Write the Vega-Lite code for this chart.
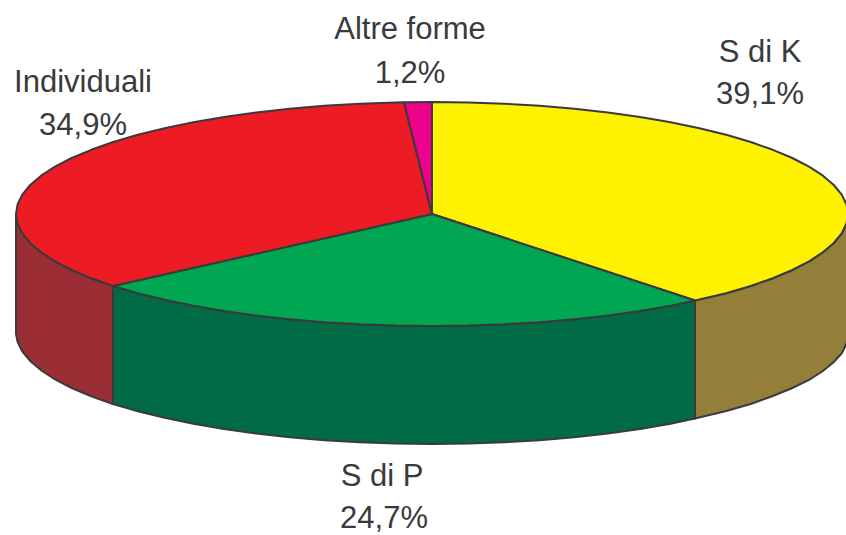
{
"$schema":"https://vega.github.io/schema/vega-lite/v6.json",
"width":846,"height":535,"autosize":{"type":"none"},"padding":0,
"background":"white","view":{"stroke":null},
"datasets":{
"walls":[
{"s":"Kw","x":848,"y":214,"y2":334},{"s":"Kw","x":846.4,"y":223.8,"y2":343.8},{"s":"Kw","x":841.7,"y":233.4,"y2":353.4},{"s":"Kw","x":833.8,"y":243,"y2":362},{"s":"Kw","x":822.9,"y":252.3,"y2":371},{"s":"Kw","x":809,"y":261.3,"y2":380},{"s":"Kw","x":792.3,"y":270,"y2":388},{"s":"Kw","x":772.8,"y":278.2,"y2":396},{"s":"Kw","x":750.7,"y":286,"y2":404},{"s":"Kw","x":726.2,"y":293.2,"y2":411},{"s":"Kw","x":695,"y":300.5,"y2":418.5},
{"s":"Pw","x":695,"y":300.5,"y2":418.5},{"s":"Pw","x":670.6,"y":305.7,"y2":423.7},{"s":"Pw","x":640,"y":311,"y2":429},{"s":"Pw","x":607.8,"y":315.5,"y2":433.5},{"s":"Pw","x":574.3,"y":319.2,"y2":437.2},{"s":"Pw","x":539.7,"y":322.2,"y2":440.2},{"s":"Pw","x":504.2,"y":324.3,"y2":442.3},{"s":"Pw","x":468.3,"y":325.6,"y2":443.6},{"s":"Pw","x":432,"y":326,"y2":444},{"s":"Pw","x":395.7,"y":325.6,"y2":443.6},{"s":"Pw","x":359.8,"y":324.3,"y2":442.3},{"s":"Pw","x":324.3,"y":322.2,"y2":440.2},{"s":"Pw","x":289.7,"y":319.2,"y2":437.2},{"s":"Pw","x":256.2,"y":315.5,"y2":433.5},{"s":"Pw","x":224,"y":311,"y2":429},{"s":"Pw","x":193.4,"y":305.7,"y2":423.7},{"s":"Pw","x":164.6,"y":299.8,"y2":417.8},{"s":"Pw","x":137.8,"y":293.2,"y2":411.2},{"s":"Pw","x":113,"y":286,"y2":404},
{"s":"Iw","x":113,"y":286,"y2":404},{"s":"Iw","x":91.2,"y":278.2,"y2":396.2},{"s":"Iw","x":71.7,"y":270,"y2":388},{"s":"Iw","x":55,"y":261.3,"y2":379.3},{"s":"Iw","x":41.1,"y":252.3,"y2":370.3},{"s":"Iw","x":30.2,"y":243,"y2":361},{"s":"Iw","x":22.3,"y":233.4,"y2":351.4},{"s":"Iw","x":17.6,"y":223.8,"y2":341.8},{"s":"Iw","x":16,"y":214,"y2":334}
],
"tops":[
{"s":"K","o":0,"x":432,"y":214},{"s":"K","o":1,"x":432,"y":102},{"s":"K","o":2,"x":468.3,"y":102.4},{"s":"K","o":3,"x":504.2,"y":103.7},{"s":"K","o":4,"x":539.7,"y":105.8},{"s":"K","o":5,"x":574.3,"y":108.8},{"s":"K","o":6,"x":607.8,"y":112.5},{"s":"K","o":7,"x":640,"y":117},{"s":"K","o":8,"x":670.6,"y":122.3},{"s":"K","o":9,"x":699.4,"y":128.2},{"s":"K","o":10,"x":726.2,"y":134.8},{"s":"K","o":11,"x":750.7,"y":142},{"s":"K","o":12,"x":772.8,"y":149.8},{"s":"K","o":13,"x":792.3,"y":158},{"s":"K","o":14,"x":809,"y":166.7},{"s":"K","o":15,"x":822.9,"y":175.7},{"s":"K","o":16,"x":833.8,"y":185},{"s":"K","o":17,"x":841.7,"y":194.6},{"s":"K","o":18,"x":846.4,"y":204.2},{"s":"K","o":19,"x":848,"y":214},{"s":"K","o":20,"x":846.4,"y":223.8},{"s":"K","o":21,"x":841.7,"y":233.4},{"s":"K","o":22,"x":833.8,"y":243},{"s":"K","o":23,"x":822.9,"y":252.3},{"s":"K","o":24,"x":809,"y":261.3},{"s":"K","o":25,"x":792.3,"y":270},{"s":"K","o":26,"x":772.8,"y":278.2},{"s":"K","o":27,"x":750.7,"y":286},{"s":"K","o":28,"x":726.2,"y":293.2},{"s":"K","o":29,"x":695,"y":300.5},{"s":"K","o":30,"x":432,"y":214},
{"s":"P","o":0,"x":432,"y":214},{"s":"P","o":1,"x":695,"y":300.5},{"s":"P","o":2,"x":670.6,"y":305.7},{"s":"P","o":3,"x":640,"y":311},{"s":"P","o":4,"x":607.8,"y":315.5},{"s":"P","o":5,"x":574.3,"y":319.2},{"s":"P","o":6,"x":539.7,"y":322.2},{"s":"P","o":7,"x":504.2,"y":324.3},{"s":"P","o":8,"x":468.3,"y":325.6},{"s":"P","o":9,"x":432,"y":326},{"s":"P","o":10,"x":395.7,"y":325.6},{"s":"P","o":11,"x":359.8,"y":324.3},{"s":"P","o":12,"x":324.3,"y":322.2},{"s":"P","o":13,"x":289.7,"y":319.2},{"s":"P","o":14,"x":256.2,"y":315.5},{"s":"P","o":15,"x":224,"y":311},{"s":"P","o":16,"x":193.4,"y":305.7},{"s":"P","o":17,"x":164.6,"y":299.8},{"s":"P","o":18,"x":137.8,"y":293.2},{"s":"P","o":19,"x":113,"y":286},{"s":"P","o":20,"x":432,"y":214},
{"s":"I","o":0,"x":432,"y":214},{"s":"I","o":1,"x":113,"y":286},{"s":"I","o":2,"x":91.2,"y":278.2},{"s":"I","o":3,"x":71.7,"y":270},{"s":"I","o":4,"x":55,"y":261.3},{"s":"I","o":5,"x":41.1,"y":252.3},{"s":"I","o":6,"x":30.2,"y":243},{"s":"I","o":7,"x":22.3,"y":233.4},{"s":"I","o":8,"x":17.6,"y":223.8},{"s":"I","o":9,"x":16,"y":214},{"s":"I","o":10,"x":17.6,"y":204.2},{"s":"I","o":11,"x":22.3,"y":194.6},{"s":"I","o":12,"x":30.2,"y":185},{"s":"I","o":13,"x":41.1,"y":175.7},{"s":"I","o":14,"x":55,"y":166.7},{"s":"I","o":15,"x":71.7,"y":158},{"s":"I","o":16,"x":91.2,"y":149.8},{"s":"I","o":17,"x":113.3,"y":142},{"s":"I","o":18,"x":137.8,"y":134.8},{"s":"I","o":19,"x":164.6,"y":128.2},{"s":"I","o":20,"x":193.4,"y":122.3},{"s":"I","o":21,"x":224,"y":117},{"s":"I","o":22,"x":256.2,"y":112.5},{"s":"I","o":23,"x":289.7,"y":108.8},{"s":"I","o":24,"x":324.3,"y":105.8},{"s":"I","o":25,"x":359.8,"y":103.7},{"s":"I","o":26,"x":395.7,"y":102.4},{"s":"I","o":27,"x":404,"y":102.2},{"s":"I","o":28,"x":432,"y":214},
{"s":"A","o":0,"x":432,"y":214},{"s":"A","o":1,"x":404,"y":102.2},{"s":"A","o":2,"x":432,"y":102},{"s":"A","o":3,"x":432,"y":214}
],
"labels":[
{"t":"S di K","x":760,"y":62},{"t":"39,1%","x":760,"y":104},
{"t":"Altre forme","x":410,"y":39},{"t":"1,2%","x":410,"y":83},
{"t":"Individuali","x":83,"y":92},{"t":"34,9%","x":83,"y":135},
{"t":"S di P","x":382,"y":486},{"t":"24,7%","x":384,"y":528}
]},
"layer":[
{"data":{"name":"walls"},"mark":{"type":"area","clip":true,"stroke":"#3A3A3C","strokeWidth":2,"opacity":1},
"encoding":{
"x":{"field":"x","type":"quantitative","scale":{"domain":[0,846],"nice":false,"zero":false},"axis":null},
"y":{"field":"y","type":"quantitative","scale":{"domain":[535,0],"nice":false,"zero":false},"axis":null},
"y2":{"field":"y2"},
"fill":{"field":"s","type":"nominal","legend":null,"scale":{"domain":["Kw","Pw","Iw"],"range":["#937F3A","#006B45","#9B2D35"]}}}},
{"data":{"name":"tops"},"mark":{"type":"line","clip":true,"stroke":"#3A3A3C","strokeWidth":2,"strokeJoin":"round"},
"encoding":{
"x":{"field":"x","type":"quantitative","scale":{"domain":[0,846],"nice":false,"zero":false},"axis":null},
"y":{"field":"y","type":"quantitative","scale":{"domain":[535,0],"nice":false,"zero":false},"axis":null},
"order":{"field":"o","type":"quantitative"},
"fill":{"field":"s","type":"nominal","legend":null,"scale":{"domain":["K","P","I","A"],"range":["#FFF200","#00A651","#ED1C24","#EC008C"]}}}},
{"data":{"name":"labels"},"mark":{"type":"text","font":"Liberation Sans","fontSize":31,"color":"#3A3A3C","baseline":"alphabetic","align":"center"},
"encoding":{
"x":{"field":"x","type":"quantitative","scale":{"domain":[0,846],"nice":false,"zero":false},"axis":null},
"y":{"field":"y","type":"quantitative","scale":{"domain":[535,0],"nice":false,"zero":false},"axis":null},
"text":{"field":"t"}}}
],
"resolve":{"scale":{"fill":"independent"}}
}
